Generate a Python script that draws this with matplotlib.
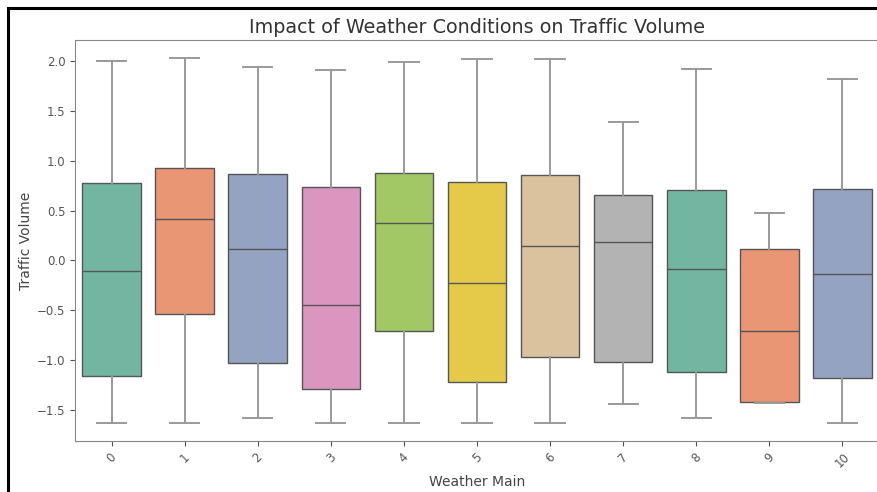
import matplotlib
matplotlib.use('Agg')
import seaborn as sns
from matplotlib import pyplot as plt
from matplotlib.patches import Rectangle


weather = [str(i) for i in range(11)]
whislo = [-1.63, -1.63, -1.585, -1.63, -1.63, -1.63, -1.63, -1.44, -1.585, -1.43, -1.63]
q1 = [-1.16, -0.54, -1.03, -1.29, -0.71, -1.22, -0.975, -1.02, -1.12, -1.42, -1.18]
med = [-0.11, 0.42, 0.115, -0.45, 0.38, -0.23, 0.14, 0.18, -0.09, -0.71, -0.14]
q3 = [0.78, 0.925, 0.87, 0.74, 0.88, 0.79, 0.86, 0.66, 0.71, 0.11, 0.72]
whishi = [2.0, 2.03, 1.94, 1.91, 1.99, 2.02, 2.02, 1.39, 1.92, 0.48, 1.82]

colors = sns.color_palette('Set2', len(weather), desat=0.75)
stats = [
    {'label': w, 'whislo': lo, 'q1': a, 'med': m, 'q3': b, 'whishi': hi, 'fliers': []}
    for w, lo, a, m, b, hi in zip(weather, whislo, q1, med, q3, whishi)
]

fig = plt.figure(figsize=(8.78, 4.92), dpi=100)
ax = fig.add_axes([75 / 878, 51 / 492, 804 / 878, 401 / 492])

edge = '#555555'
bp = ax.bxp(stats, positions=range(len(weather)), widths=0.8, patch_artist=True,
            showfliers=False,
            boxprops=dict(edgecolor=edge, linewidth=1.0),
            medianprops=dict(color=edge, linewidth=1.0),
            whiskerprops=dict(color='#9a9a9a', linewidth=1.4),
            capprops=dict(color='#9a9a9a', linewidth=1.4))
for patch, c in zip(bp['boxes'], colors):
    patch.set_facecolor(c)

ax.set_xlim(-0.5, 10.5)
ax.set_ylim(-1.815, 2.215)
ax.set_yticks([-1.5, -1.0, -0.5, 0.0, 0.5, 1.0, 1.5, 2.0])
ax.tick_params(labelsize=8.5, colors='#555555')
ax.set_xticks(range(len(weather)))
ax.set_xticklabels(weather, rotation=45)
for sp in ax.spines.values():
    sp.set_color('#888888')
ax.set_title('Impact of Weather Conditions on Traffic Volume', fontsize=13.8, color='#333333', pad=5)
ax.set_xlabel('Weather Main', fontsize=10, color='#444444', labelpad=3)
ax.set_ylabel('Traffic Volume', fontsize=10, color='#444444', labelpad=3)

# outer frame
fig.add_artist(Rectangle((8 / 878, -0.1), 1.2, (492 - 8) / 492 + 0.1, transform=fig.transFigure,
                         fill=False, edgecolor='black', linewidth=2.2))

plt.savefig('out.png', dpi=100)
